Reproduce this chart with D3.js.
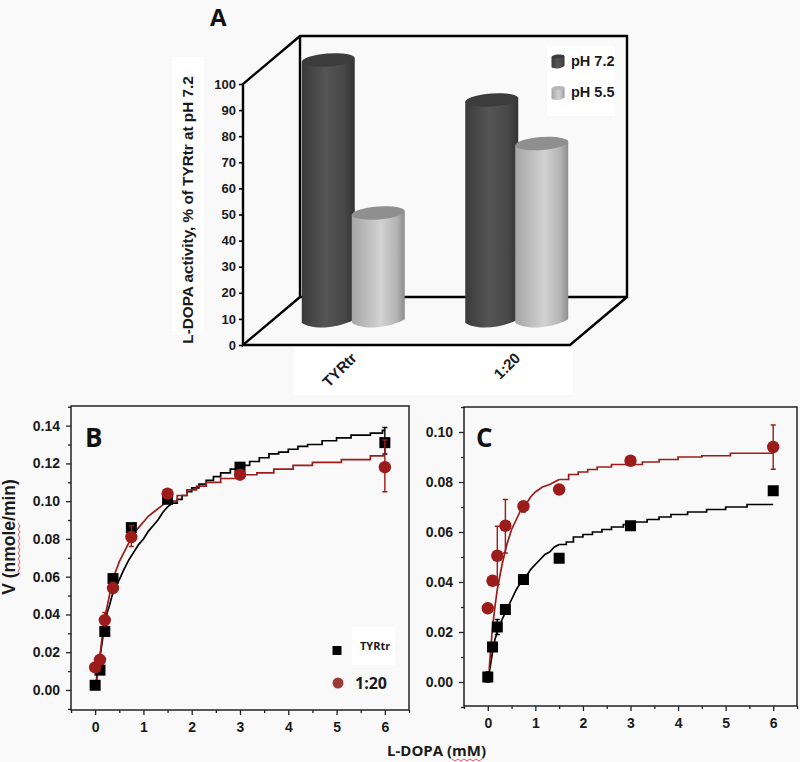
<!DOCTYPE html>
<html>
<head>
<meta charset="utf-8">
<script src="https://cdnjs.cloudflare.com/ajax/libs/d3/7.8.5/d3.min.js"></script>
<style>
html, body { margin: 0; padding: 0; background: #f9f9f9; }
svg { display: block; }
text { font-family: "Liberation Sans", Arial, sans-serif; font-weight: bold; fill: #1a1a1a; }
.letter { font-family: "Open Sans", sans-serif; font-size: 26px; fill: #111; }
</style>
</head>
<body>
<svg id="chart" width="800" height="762"></svg>
<script>
// panel A
var groupsA = ["TYRtr", "1:20"];
var seriesA = ["pH 7.2", "pH 5.5"];
var ph72 = [100, 84.7];
var ph55 = [41.4, 68];
var ticksA = [0, 10, 20, 30, 40, 50, 60, 70, 80, 90, 100];

// panel B and C, measured points
var doses = [0, 0.1, 0.2, 0.37, 0.75, 1.5, 3, 6];
var xTicks = [0, 1, 2, 3, 4, 5, 6];
var xMinor = [-0.5, 0.5, 1.5, 2.5, 3.5, 4.5, 5.5, 6.5];

var bTyr = [0.0025, 0.0105, 0.031, 0.059, 0.086, 0.101, 0.118, 0.131];
var bTyrLow = [0.001, 0.009, 0.029, 0.057, 0.084, 0.100, 0.116, 0.125];
var bTyrHigh = [0.004, 0.012, 0.033, 0.061, 0.088, 0.102, 0.120, 0.139];
var bDil = [0.012, 0.016, 0.037, 0.054, 0.081, 0.104, 0.114, 0.118];
var bDilLow = [0.010, 0.014, 0.034, 0.052, 0.076, 0.103, 0.112, 0.105];
var bDilHigh = [0.014, 0.018, 0.041, 0.057, 0.087, 0.105, 0.116, 0.1324];

var cTyr = [0.002, 0.014, 0.022, 0.029, 0.041, 0.0495, 0.0625, 0.0765];
var cTyrLow = [0, 0.013, 0.019, 0.028, 0.040, 0.049, 0.061, 0.075];
var cTyrHigh = [0.004, 0.015, 0.025, 0.030, 0.042, 0.050, 0.064, 0.078];
var cDil = [0.0295, 0.0405, 0.0505, 0.0625, 0.0703, 0.077, 0.0885, 0.094];
var cDilLow = [0.029, 0.039, 0.039, 0.0516, 0.068, 0.076, 0.087, 0.0851];
var cDilHigh = [0.030, 0.042, 0.0623, 0.073, 0.072, 0.078, 0.090, 0.1028];

// fitted curves (stepped in the original at high x)
var bTyrFitX = [0, 0.04, 0.08, 0.12, 0.16, 0.2, 0.25, 0.3, 0.35, 0.4, 0.5, 0.6, 0.7, 0.8, 0.9, 1, 1.1, 1.2, 1.3, 1.4, 1.5, 1.6, 1.7, 1.8, 1.9, 2, 2.15, 2.3, 2.45, 2.6, 2.8, 3, 3.2, 3.4, 3.6, 3.8, 4, 4.2, 4.4, 4.7, 5, 5.3, 5.7, 5.95];
var bTyrFitY = [0, 0.008, 0.015, 0.021, 0.028, 0.034, 0.041, 0.045, 0.050, 0.053, 0.0585, 0.064, 0.069, 0.073, 0.077, 0.080, 0.084, 0.087, 0.090, 0.094, 0.097, 0.099, 0.101, 0.103, 0.105, 0.107, 0.109, 0.111, 0.113, 0.115, 0.117, 0.119, 0.121, 0.123, 0.125, 0.126, 0.1275, 0.129, 0.130, 0.132, 0.1335, 0.135, 0.136, 0.1375];
var bDilFitX = [0.02, 0.06, 0.1, 0.14, 0.18, 0.22, 0.28, 0.34, 0.4, 0.5, 0.6, 0.7, 0.8, 0.9, 1, 1.1, 1.2, 1.35, 1.5, 1.7, 1.9, 2.1, 2.3, 2.6, 3, 3.35, 3.7, 4.1, 4.5, 5.1, 5.7];
var bDilFitY = [0.002, 0.011, 0.018, 0.027, 0.036, 0.041, 0.048, 0.056, 0.061, 0.068, 0.073, 0.078, 0.083, 0.086, 0.089, 0.092, 0.094, 0.097, 0.100, 0.103, 0.106, 0.108, 0.110, 0.112, 0.114, 0.115, 0.117, 0.119, 0.1205, 0.122, 0.124];

var cTyrFitX = [0, 0.05, 0.1, 0.15, 0.2, 0.3, 0.4, 0.5, 0.6, 0.7, 0.8, 0.9, 1, 1.1, 1.2, 1.3, 1.4, 1.5, 1.65, 1.8, 2, 2.2, 2.4, 2.6, 2.85, 3.1, 3.35, 3.6, 3.85, 4.2, 4.6, 5, 5.45];
var cTyrFitY = [0.001, 0.006, 0.012, 0.017, 0.020, 0.025, 0.029, 0.033, 0.037, 0.040, 0.042, 0.045, 0.047, 0.049, 0.051, 0.052, 0.054, 0.055, 0.056, 0.058, 0.059, 0.060, 0.061, 0.062, 0.063, 0.064, 0.065, 0.066, 0.067, 0.068, 0.069, 0.070, 0.071];
var cDilFitX = [0.03, 0.06, 0.1, 0.15, 0.2, 0.25, 0.3, 0.35, 0.4, 0.45, 0.5, 0.6, 0.7, 0.8, 0.9, 1, 1.15, 1.3, 1.5, 1.7, 1.9, 2.1, 2.3, 2.6, 3.25, 3.6, 4, 4.5, 5.1];
var cDilFitY = [0.005, 0.013, 0.022, 0.030, 0.037, 0.042, 0.047, 0.051, 0.055, 0.058, 0.061, 0.065, 0.069, 0.071, 0.074, 0.076, 0.078, 0.079, 0.081, 0.083, 0.084, 0.085, 0.086, 0.087, 0.088, 0.089, 0.090, 0.0905, 0.0915];

var darkRed = "#9b1c1a";
var stepFrom = 1.6;  // below this the curve reads as smooth
var svg = d3.select("#chart");

// ---- panel A: 3D cylinders ----
var yA = d3.scaleLinear().domain([0, 100]).range([345, 84]);
var xA = d3.scaleBand().domain(groupsA).range([243, 570]);
var xInner = d3.scaleBand().domain(seriesA).range([-50, 50]);
var depthX = 57, depthY = -48, barRx = 26.5, barRy = 6.5;

function addGradient(id, stops) {
   var g = svg.append("defs").append("linearGradient").attr("id", id);
   stops.forEach(function(s){
      g.append("stop").attr("offset", s[0]).attr("stop-color", s[1]);
   });
}
addGradient("darkCyl", [[0, "#3a3a3a"], [0.45, "#555555"], [0.8, "#484848"], [1, "#333333"]]);
addGradient("lightCyl", [[0, "#a6a6a6"], [0.55, "#d2d2d2"], [0.85, "#b4b4b4"], [1, "#8c8c8c"]]);

// white patches behind the labels
var patches = [[172, 57, 32, 278], [294, 347, 279, 48], [547, 46, 68, 70]];
svg.selectAll("rect.patch").data(patches).enter().append("rect")
   .attr("class", "patch")
   .attr("x", function(d){ return d[0]; }).attr("y", function(d){ return d[1]; })
   .attr("width", function(d){ return d[2]; }).attr("height", function(d){ return d[3]; })
   .attr("fill", "#ffffff");

// walls of the box
var x0 = xA.range()[0], x1 = xA.range()[1], yBase = yA(0), yTop = yA(100);
var wall = d3.path();
wall.moveTo(x0, yBase); wall.lineTo(x0, yTop);
wall.lineTo(x0 + depthX, yTop + depthY);
wall.lineTo(x1 + depthX, yTop + depthY);
wall.lineTo(x1 + depthX, yBase + depthY);
wall.lineTo(x0 + depthX, yBase + depthY);
wall.closePath();
wall.moveTo(x0 + depthX, yTop + depthY); wall.lineTo(x0 + depthX, yBase + depthY);
wall.moveTo(x0, yBase); wall.lineTo(x1, yBase); wall.lineTo(x1 + depthX, yBase + depthY);
svg.append("path").attr("d", wall.toString()).attr("fill", "none").attr("stroke", "#000").attr("stroke-width", 2.4);

function drawCylinder(cx, yBottom, yUp, rx, ry, grad, topColor) {
   var g = svg.append("g");
   var tilt = ry * 0.28;
   var p = d3.path();
   p.moveTo(cx - rx, yUp + tilt);
   p.lineTo(cx - rx, yBottom + tilt);
   p.bezierCurveTo(cx - rx * 0.6, yBottom + ry * 1.5, cx + rx * 0.4, yBottom + ry * 1.1, cx + rx, yBottom - tilt);
   p.lineTo(cx + rx, yUp - tilt);
   p.closePath();
   g.append("path").attr("d", p.toString()).attr("fill", "url(#" + grad + ")");
   g.append("ellipse").attr("cx", cx).attr("cy", yUp).attr("rx", rx).attr("ry", ry)
      .attr("transform", "rotate(-4 " + cx + " " + yUp + ")")
      .attr("fill", topColor);
}

groupsA.forEach(function(name, i){
   var cx = xA(name) + xA.bandwidth() / 2 + depthX / 2;
   drawCylinder(cx + xInner(seriesA[0]) + xInner.bandwidth() / 2, yA(0) + depthY / 2, yA(ph72[i]) + depthY / 2, barRx, barRy, "darkCyl", "#3c3c3c");
   drawCylinder(cx + xInner(seriesA[1]) + xInner.bandwidth() / 2, yA(0) + depthY / 2, yA(ph55[i]) + depthY / 2, barRx, barRy, "lightCyl", "#8f8f8f");
});

var axisA = svg.append("g").attr("transform", "translate(243,0)")
   .call(d3.axisLeft(yA).tickValues(ticksA).tickSize(4).tickPadding(3));
axisA.select(".domain").remove();
axisA.selectAll("line").attr("stroke", "#000").attr("stroke-width", 1.6);
axisA.selectAll("text").style("font-size", "13px").style("font-family", "Liberation Sans").attr("fill", "#1a1a1a");

svg.selectAll("text.catA").data(groupsA).enter().append("text")
   .attr("class", "catA")
   .attr("text-anchor", "end")
   .attr("transform", function(d){
      return "translate(" + (xA(d) + xA.bandwidth() / 2 + 33) + ",359) rotate(-45)";
   })
   .style("font-size", "15px")
   .text(function(d){ return d; });

svg.append("text").attr("transform", "translate(193,210) rotate(-90)")
   .attr("text-anchor", "middle").style("font-size", "15.3px")
   .text("L-DOPA activity, % of TYRtr at pH 7.2");

svg.append("text").attr("class", "letter").attr("x", 210).attr("y", 26).style("font-size", "24px").text("A");

// legend of panel A
var legendA = [{y: 61.5, text: 66}, {y: 93, text: 97}];
seriesA.forEach(function(name, i){
   drawCylinder(558, legendA[i].y + 5, legendA[i].y - 5, 6.5, 2, i == 0 ? "darkCyl" : "lightCyl", i == 0 ? "#3c3c3c" : "#b8b8b8");
   svg.append("text").attr("x", 571).attr("y", legendA[i].text).style("font-size", "14.5px").text(name);
});

// ---- panels B and C ----
function makePanel(opts) {
   var x = d3.scaleLinear().domain([-0.5, 6.5]).range([opts.left, opts.right]);
   var y = d3.scaleLinear().domain(opts.yDomain).range([opts.bottom, opts.top]);
   var g = svg.append("g");

   g.append("rect").attr("x", opts.left).attr("y", opts.top)
      .attr("width", opts.right - opts.left).attr("height", opts.bottom - opts.top)
      .attr("fill", "none").attr("stroke", "#222").attr("stroke-width", 1.5);

   var axes = [
      d3.axisBottom(x).tickValues(xTicks).tickSize(5).tickPadding(7).tickFormat(d3.format("d")),
      d3.axisBottom(x).tickValues(xMinor).tickSize(3).tickFormat(""),
   ];
   axes.forEach(function(a){
      var s = g.append("g").attr("transform", "translate(0," + opts.bottom + ")").call(a);
      s.select(".domain").remove();
      s.selectAll("line").attr("stroke", "#222").attr("stroke-width", 1.3);
      s.selectAll("text").style("font-size", "14px").style("font-family", "Liberation Sans").attr("fill", "#1a1a1a");
   });
   var yAxes = [
      d3.axisLeft(y).tickValues(opts.yTicks).tickSize(5).tickPadding(6).tickFormat(d3.format(".2f")),
      d3.axisLeft(y).tickValues(opts.yMinor).tickSize(3).tickFormat(""),
   ];
   yAxes.forEach(function(a){
      var s = g.append("g").attr("transform", "translate(" + opts.left + ",0)").call(a);
      s.select(".domain").remove();
      s.selectAll("line").attr("stroke", "#222").attr("stroke-width", 1.3);
      s.selectAll("text").style("font-size", "14px").style("font-family", "Liberation Sans").attr("fill", "#1a1a1a");
   });

   var smooth = d3.line().x(function(d){ return x(d[0]); }).y(function(d){ return y(d[1]); });
   var stepped = d3.line().x(function(d){ return x(d[0]); }).y(function(d){ return y(d[1]); }).curve(d3.curveStepAfter);

   opts.series.forEach(function(s){
      var pts = d3.zip(s.fitX, s.fitY);
      pts.push([6, s.fitY[s.fitY.length - 1]]);
      var low = pts.filter(function(d){ return d[0] <= stepFrom; });
      var high = [low[low.length - 1]].concat(pts.filter(function(d){ return d[0] > stepFrom; }));
      [smooth(low), stepped(high)].forEach(function(dStr){
         g.append("path").attr("d", dStr).attr("fill", "none").attr("stroke", s.color).attr("stroke-width", 1.7);
      });
   });
   opts.series.forEach(function(s){
      doses.forEach(function(dose, i){
         var px = x(dose), low = y(s.low[i]), high = y(s.high[i]);
         var p = d3.path();
         p.moveTo(px, low); p.lineTo(px, high);
         p.moveTo(px - 2.5, low); p.lineTo(px + 2.5, low);
         p.moveTo(px - 2.5, high); p.lineTo(px + 2.5, high);
         g.append("path").attr("d", p.toString()).attr("fill", "none").attr("stroke", s.color).attr("stroke-width", 1.4);
      });
      g.selectAll(null).data(doses).enter().append(s.square ? "rect" : "circle")
         .each(function(d, i){
            var m = d3.select(this);
            if (s.square) {
               m.attr("x", x(d) - 5.5).attr("y", y(s.values[i]) - 5.5).attr("width", 11).attr("height", 11);
            } else {
               m.attr("cx", x(d)).attr("cy", y(s.values[i])).attr("r", 6.2);
            }
         })
         .attr("fill", s.color);
   });
}

makePanel({
   left: 71, right: 409, top: 406, bottom: 710,
   yDomain: [-0.0106, 0.1504],
   yTicks: [0, 0.02, 0.04, 0.06, 0.08, 0.10, 0.12, 0.14],
   yMinor: [-0.01, 0.01, 0.03, 0.05, 0.07, 0.09, 0.11, 0.13, 0.15],
   series: [
      {color: "#000", square: true, values: bTyr, low: bTyrLow, high: bTyrHigh, fitX: bTyrFitX, fitY: bTyrFitY},
      {color: darkRed, square: false, values: bDil, low: bDilLow, high: bDilHigh, fitX: bDilFitX, fitY: bDilFitY}
   ]
});
makePanel({
   left: 464, right: 797, top: 407, bottom: 706,
   yDomain: [-0.0096, 0.11],
   yTicks: [0, 0.02, 0.04, 0.06, 0.08, 0.10],
   yMinor: [-0.01, 0.01, 0.03, 0.05, 0.07, 0.09, 0.11],
   series: [
      {color: "#000", square: true, values: cTyr, low: cTyrLow, high: cTyrHigh, fitX: cTyrFitX, fitY: cTyrFitY},
      {color: darkRed, square: false, values: cDil, low: cDilLow, high: cDilHigh, fitX: cDilFitX, fitY: cDilFitY}
   ]
});

svg.append("text").attr("class", "letter").attr("x", 85).attr("y", 447).text("B");
svg.append("text").attr("class", "letter").attr("x", 476).attr("y", 447).text("C");

// legend of panel B
svg.append("rect").attr("x", 352).attr("y", 627).attr("width", 43).attr("height", 38).attr("fill", "#fff");
svg.append("rect").attr("x", 332.5).attr("y", 646).attr("width", 9).attr("height", 9).attr("fill", "#000");
svg.append("text").attr("x", 360).attr("y", 650).style("font-family", "Open Sans").style("font-size", "11px").text("TYRtr");
svg.append("circle").attr("cx", 338).attr("cy", 683).attr("r", 5.5).attr("fill", "#9d3a38");
svg.append("text").attr("x", 355).attr("y", 689).style("font-family", "Open Sans").style("font-size", "16px").text("1:20");

// axis titles
svg.append("text").attr("transform", "translate(15,537) rotate(-90)")
   .attr("text-anchor", "middle").style("font-size", "17.5px").text("V (nmole/min)");
svg.append("text").attr("x", 387).attr("y", 756).style("font-family", "Open Sans").style("font-size", "15px").text("L-DOPA (mM)");

// spell-check squiggles
function squiggle(points) {
   svg.append("path").attr("d", d3.line().curve(d3.curveLinear)(points))
      .attr("fill", "none").attr("stroke", "#e0474c").attr("stroke-width", 0.9);
}
var zigV = [], zigH = [];
d3.range(0, 18).forEach(function(i){ zigV.push([i % 2 ? 20 : 18, 523 + i * 3]); });
d3.range(0, 11).forEach(function(i){ zigH.push([452 + i * 3, i % 2 ? 761 : 759]); });
squiggle(zigV);
squiggle(zigH);
</script>
</body>
</html>
